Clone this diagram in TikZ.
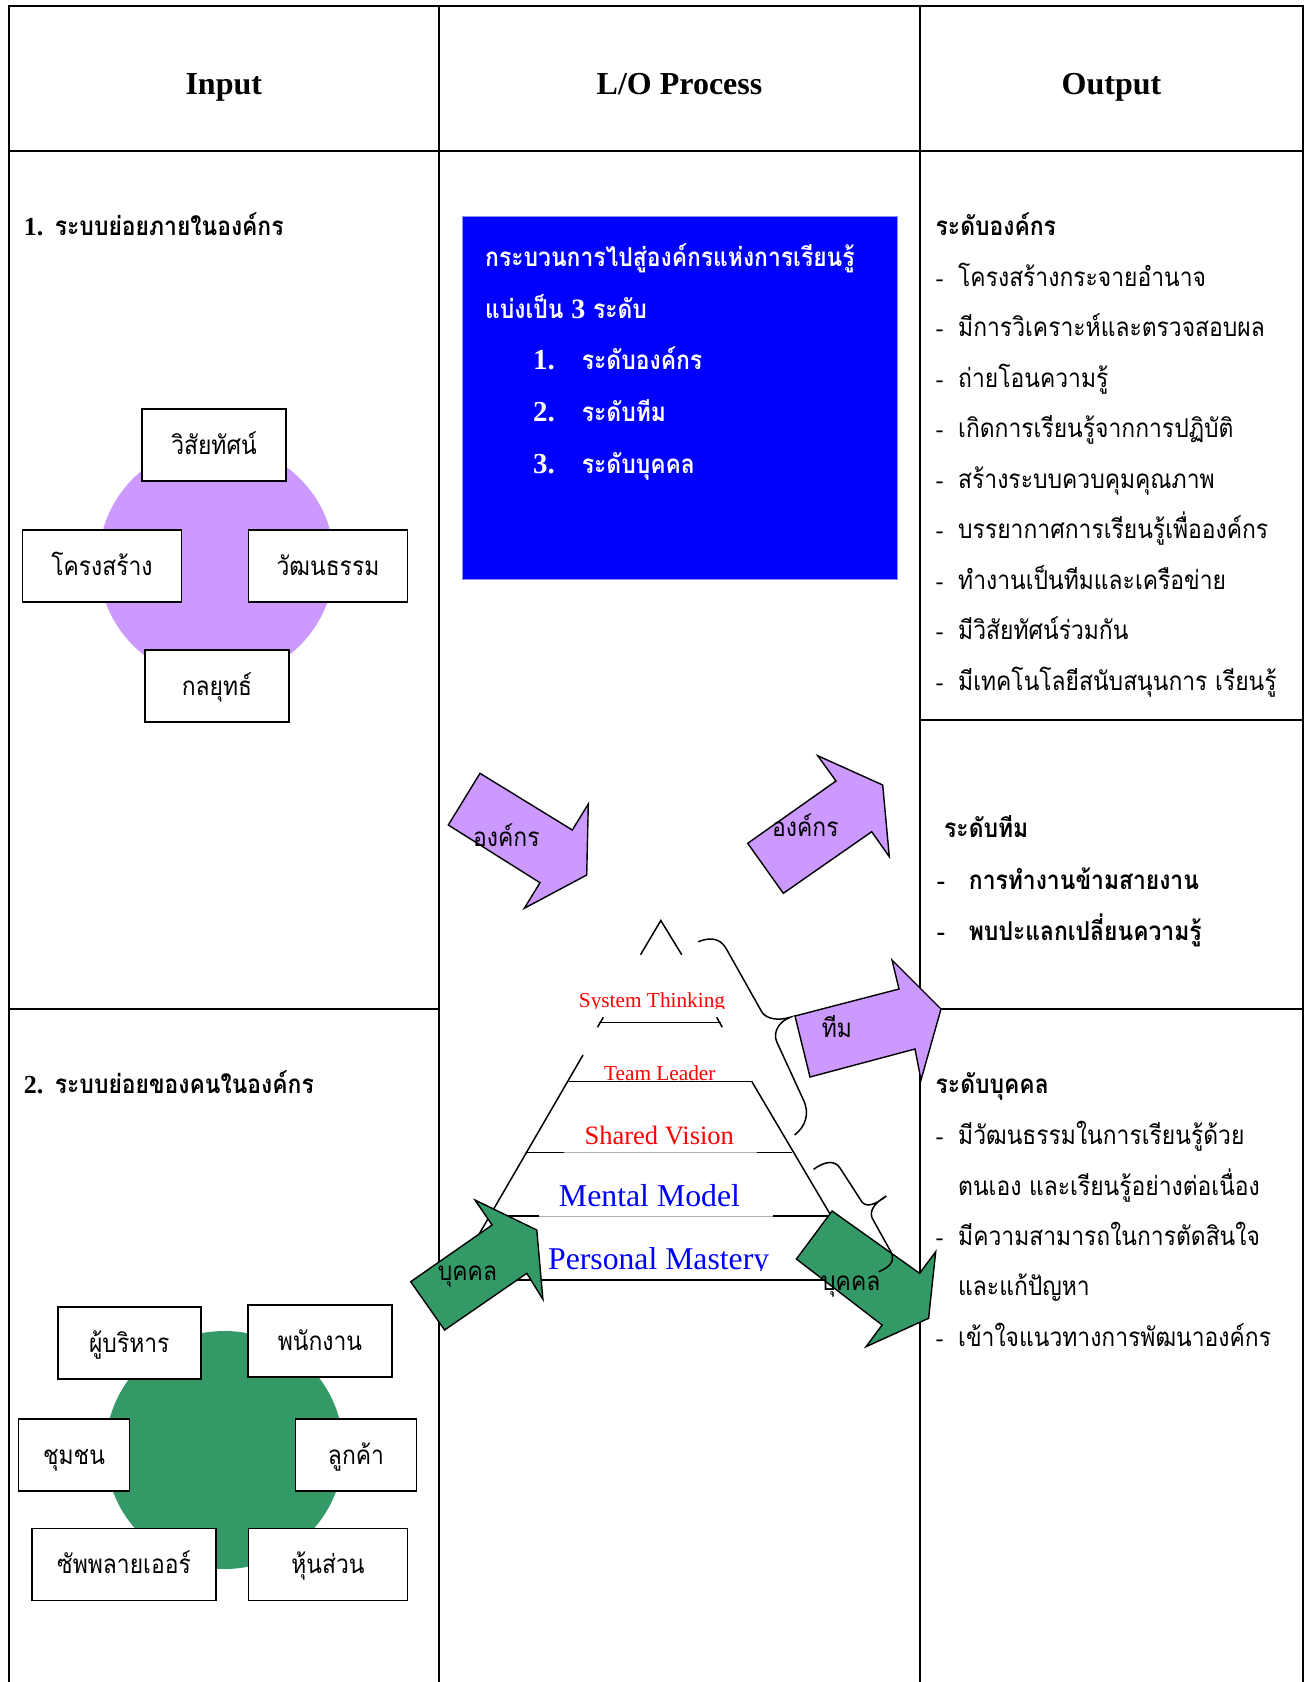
\documentclass[tikz,border=0pt]{standalone}
\usepackage{fontspec}
\setmainfont{Liberation Serif}
\newfontfamily\thaif[Script=Thai,FakeStretch=0.88]{Loma}
\definecolor{lav}{RGB}{204,153,255}
\definecolor{grn}{RGB}{51,153,102}
\definecolor{pblue}{RGB}{0,0,255}
\newcommand{\thsz}{\fontsize{26}{30}\selectfont}
\begin{document}
\begin{tikzpicture}[x=1pt,y=-1pt,
  grid/.style={line width=2pt},
  hdr/.style={anchor=base,inner sep=0,font=\fontsize{32}{36}\selectfont\bfseries},
  ibox/.style={draw,line width=1.8pt,fill=white,minimum height=72pt,inner sep=0,
     text height=25pt,text depth=7pt,font=\thaif\thsz},
  tline/.style={anchor=base west,inner sep=0,font=\thaif\thsz},
  tbold/.style={anchor=base west,inner sep=0,font=\thaif\thsz\bfseries},
  dsh/.style={anchor=base west,inner sep=0,font=\fontsize{24}{28}\selectfont},
  bdsh/.style={anchor=base west,inner sep=0,font=\fontsize{26}{28}\selectfont\bfseries},
  wline/.style={anchor=base west,inner sep=0,text=white,font=\thaif\thsz\bfseries},
  wnum/.style={anchor=base west,inner sep=0,text=white,font=\fontsize{29}{32}\selectfont\bfseries},
  parrow/.style={draw,line width=1.4pt,fill=lav,line join=miter},
  garrow/.style={draw,line width=1.4pt,fill=grn,line join=miter},
  pyr/.style={line width=1.5pt},
  faint/.style={line width=0.8pt,gray!60},
  brace/.style={line width=1.5pt},
  lvl/.style={anchor=base,inner sep=0},
]
\useasboundingbox (0,0) rectangle (1311,1682);
\fill[white] (0,0) rectangle (1311,1682);

% ---- table ----
\draw[grid] (8.6,1682) -- (8.6,6) -- (1303,6) -- (1303,1682);
\draw[grid] (8.6,150.7) -- (1303,150.7);
\draw[grid] (439,6) -- (439,1682);
\draw[grid] (920,6) -- (920,1682);
\draw[grid] (8.6,1009) -- (439,1009);
\draw[grid] (920,720) -- (1303,720);
\draw[grid] (920,1009) -- (1303,1009);

\node[hdr] (hin) at (223.8,94) {Input};
\node[hdr] (hproc) at (679.5,94) {L/O Process};
\node[hdr] (hout) at (1111.5,94) {Output};

% ---- left column ----
\node[bdsh] (n1) at (23.6,235.5) {1.};
\node[tbold] (sub1) at (54.7,235.5) {ระบบย่อยภายในองค์กร};
\fill[lav] (216.5,562) circle (118);
\node[ibox,minimum width=144pt] (vis) at (214,445) {วิสัยทัศน์};
\node[ibox,minimum width=159pt] (str) at (102,566) {โครงสร้าง};
\node[ibox,minimum width=159pt] (cul) at (328,566) {วัฒนธรรม};
\node[ibox,minimum width=144pt] (strat) at (217,686) {กลยุทธ์};

\node[bdsh] (n2) at (23.6,1093) {2.};
\node[tbold] (sub2) at (54.7,1093) {ระบบย่อยของคนในองค์กร};
\fill[grn] (224.5,1450) circle (119);
\node[ibox,minimum width=143pt] (exe) at (129.3,1343) {ผู้บริหาร};
\node[ibox,minimum width=144pt] (emp) at (320,1341) {พนักงาน};
\node[ibox,minimum width=111pt] (com) at (74,1455) {ชุมชน};
\node[ibox,minimum width=121pt] (cus) at (356,1455) {ลูกค้า};
\node[ibox,minimum width=184pt] (sup) at (124,1564.5) {ซัพพลายเออร์};
\node[ibox,minimum width=159pt] (par) at (328,1564.5) {หุ้นส่วน};

% ---- blue box ----
\node[fill=pblue,draw=pblue!45,line width=1pt,minimum width=434.6pt,minimum height=362.6pt,inner sep=0] (bluebox) at (680,398) {};
\node[wline] (b1) at (485,266) {กระบวนการไปสู่องค์กรแห่งการเรียนรู้};
\node[wline] (b2) at (485,318) {แบ่งเป็น {\fontspec{Liberation Serif}\fontsize{28}{30}\selectfont 3} ระดับ};
\node[wnum] (b3n) at (533,369) {1.};
\node[wline] (b3) at (581.7,369) {ระดับองค์กร};
\node[wnum] (b4n) at (533,421) {2.};
\node[wline] (b4) at (581.7,421) {ระดับทีม};
\node[wnum] (b5n) at (533,473) {3.};
\node[wline] (b5) at (581.7,473) {ระดับบุคคล};

% ---- pyramid ----
\draw[pyr] (640.5,954.8) -- (660.8,920.5) -- (681.8,954.8);
\draw[pyr] (603.3,1017.3) -- (597.5,1027.3);
\draw[pyr] (716.7,1017.3) -- (722.3,1027.3);
\draw[pyr] (598.6,1022.4) -- (721,1022.4);
\draw[pyr] (583,1055) -- (452.5,1280);
\draw[pyr] (751.9,1081.7) -- (869,1280);
\draw[pyr] (568.6,1081.7) -- (753,1081.7);
\draw[pyr] (526.7,1152.5) -- (564.3,1152.5);
\draw[pyr] (757,1152.5) -- (792,1152.5);
\draw[faint] (564.3,1152.5) -- (757,1152.5);
\draw[pyr] (489.5,1216) -- (539,1216);
\draw[pyr] (773,1216) -- (827.5,1216);
\draw[faint] (539,1216) -- (773,1216);
\draw[pyr] (452.5,1280) -- (869,1280);

\begin{scope}
\clip (540,980) rectangle (780,1008.3);
\node[lvl,text=red,font=\fontsize{21.3}{24}\selectfont] (st) at (652,1007.5) {System Thinking};
\end{scope}
\begin{scope}
\clip (560,1050) rectangle (760,1080.3);
\node[lvl,text=red,font=\fontsize{21.3}{24}\selectfont] (tl) at (659.8,1080.5) {Team Leader};
\end{scope}
\begin{scope}
\clip (560,1110) rectangle (760,1144);
\node[lvl,text=red,font=\fontsize{26.5}{30}\selectfont] (sv) at (659.3,1144.5) {Shared Vision};
\end{scope}
\node[lvl,text=pblue,font=\fontsize{31.8}{36}\selectfont] (mm) at (649.5,1206.5) {Mental Model};
\begin{scope}
\clip (540,1230) rectangle (800,1270.5);
\node[anchor=base west,inner sep=0,text=pblue,font=\fontsize{31.7}{36}\selectfont] (pm) at (548,1269.5) {Personal Mastery};
\end{scope}

% ---- block arrows ----
\draw[parrow] (480,773.3) -- (572.3,830) -- (588.3,804) -- (586.7,875) -- (524.3,908.3) -- (540,882.7) -- (448.3,825) -- cycle;
\draw[parrow] (747.7,843.3) -- (836,781) -- (817.7,755.7) -- (882.7,785) -- (889.3,856.7) -- (871.7,831.7) -- (783.3,893.3) -- cycle;
\draw[parrow] (795,1016) -- (899,989) -- (892,960) -- (941,1009) -- (921,1080) -- (915,1049) -- (810,1077) -- cycle;
\draw[garrow] (410.7,1281.7) -- (492.1,1225) -- (475,1200) -- (536.8,1230) -- (542.9,1299.3) -- (526.8,1273.3) -- (444.6,1330) -- cycle;
\draw[garrow] (832.1,1211) -- (919.6,1273.3) -- (935.7,1251.7) -- (928.6,1318.3) -- (866,1346.7) -- (882.1,1325) -- (796.4,1259) -- cycle;

% ---- braces ----
\draw[brace] (698.3,941.7) .. controls (710,937) and (720,938) .. (726,948.3) -- (761.7,1011.7) .. controls (766,1019) and (778,1021) .. (790,1017.3)
  .. controls (778,1022) and (773,1033) .. (776.7,1041.7) -- (803,1099) .. controls (810,1113) and (806,1126) .. (794.6,1135);
\draw[brace] (813.6,1169.3) .. controls (825,1161) and (835,1160) .. (840,1168) -- (862,1202) .. controls (867,1208) and (876,1204) .. (886.4,1196)
  .. controls (874,1203) and (868,1212) .. (873.2,1220) -- (891,1252) .. controls (896,1262) and (888,1268) .. (878.6,1271.7);

\node[tline] (a1) at (473,846.7) {องค์กร};
\node[tline] (a2) at (772,836.7) {องค์กร};
\node[tline] (a3) at (821.7,1037.7) {ทีม};
\node[tline] (a4) at (437.7,1280) {บุคคล};
\node[tline] (a5) at (821,1290) {บุคคล};

% ---- right column ----
\node[tbold] (o1) at (935.5,235.5) {ระดับองค์กร};
\foreach \t [count=\i] in {โครงสร้างกระจายอำนาจ,มีการวิเคราะห์และตรวจสอบผล,ถ่ายโอนความรู้,เกิดการเรียนรู้จากการปฏิบัติ,สร้างระบบควบคุมคุณภาพ,บรรยากาศการเรียนรู้เพื่อองค์กร,ทำงานเป็นทีมและเครือข่าย,มีวิสัยทัศน์ร่วมกัน,มีเทคโนโลยีสนับสนุนการ เรียนรู้}{
  \node[dsh] (od\i) at (935.5,236+50.45*\i) {-};
  \node[tline] (ot\i) at (958,236+50.45*\i) {\t};
}
\node[tbold] (o2) at (944,837.5) {ระดับทีม};
\node[bdsh] (td1) at (936.5,889.2) {-};
\node[tbold] (tt1) at (968.7,889.2) {การทำงานข้ามสายงาน};
\node[bdsh] (td2) at (936.5,940.7) {-};
\node[tbold] (tt2) at (968.7,940.7) {พบปะแลกเปลี่ยนความรู้};

\node[tbold] (o3) at (935.5,1093) {ระดับบุคคล};
\node[dsh] (pd1) at (935.5,1144.5) {-};
\node[tline] (pt1) at (958,1144.5) {มีวัฒนธรรมในการเรียนรู้ด้วย};
\node[tline] (pt2) at (958,1195) {ตนเอง และเรียนรู้อย่างต่อเนื่อง};
\node[dsh] (pd3) at (935.5,1245.3) {-};
\node[tline] (pt3) at (958,1245.3) {มีความสามารถในการตัดสินใจ};
\node[tline] (pt4) at (958,1295.8) {และแก้ปัญหา};
\node[dsh] (pd5) at (935.5,1346.2) {-};
\node[tline] (pt5) at (958,1346.2) {เข้าใจแนวทางการพัฒนาองค์กร};
\end{tikzpicture}
\end{document}
